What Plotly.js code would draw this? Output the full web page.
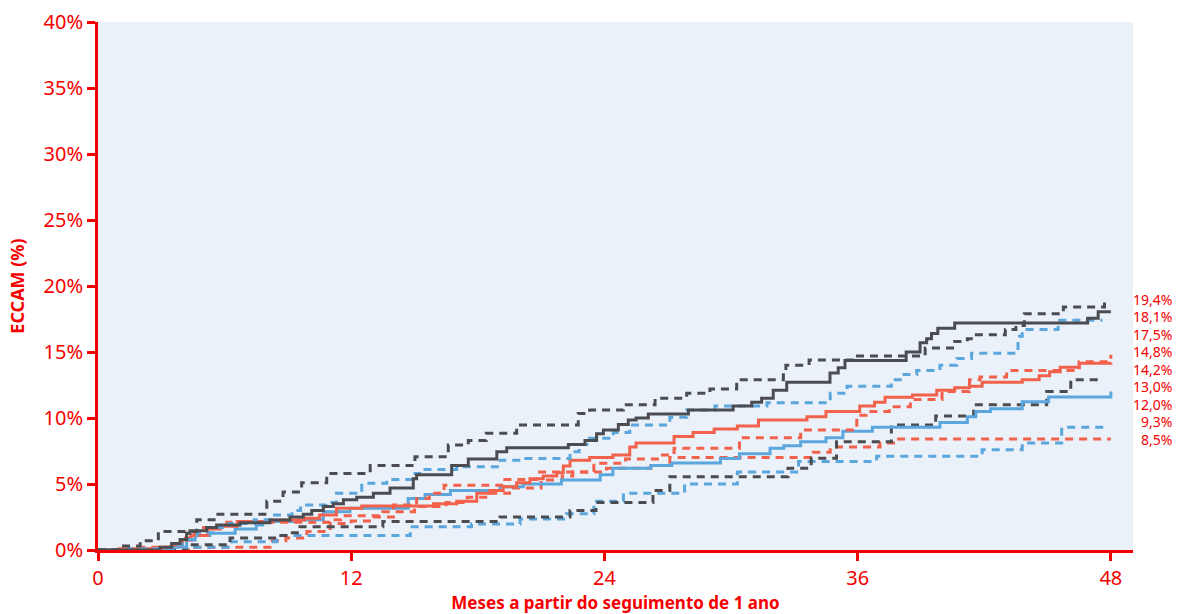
<!DOCTYPE html>
<html>
<head>
<meta charset="utf-8">
<script src="https://cdn.plot.ly/plotly-3.0.1.min.js"></script>
<style>
  html, body { margin: 0; padding: 0; background: #ffffff; }
  #chart { width: 1177px; height: 614px; }
</style>
</head>
<body>
<div id="chart"></div>
<script>
// ---- Data (months, cumulative MACCE %) ----
const grayDashUpX = [0, 1.04, 2.0, 2.86, 4.68, 5.6, 8.0, 8.77, 9.65, 10.84, 12.9, 15.02, 16.6, 17.55, 18.4, 19.84, 22.76, 23.3, 24.9, 26.4, 27.9, 29.0, 30.27, 32.48, 32.6, 33.7, 35.83, 39.2, 40.6, 41.2, 41.5, 43.0, 43.5, 43.9, 45.75, 47.7];
const grayDashUpY = [0, 0.3, 0.7, 1.4, 2.3, 2.7, 3.7, 4.4, 5.1, 5.8, 6.4, 7.07, 7.95, 8.3, 8.84, 9.47, 10.35, 10.6, 11.0, 11.5, 11.87, 12.2, 12.9, 13.4, 14.0, 14.4, 14.7, 15.3, 15.8, 16.0, 16.3, 16.7, 17.0, 17.9, 18.4, 18.9];

const graySolidX = [0, 2.94, 3.49, 3.89, 4.2, 4.36, 5.15, 5.62, 6.73, 8.15, 9.1, 9.73, 10.13, 10.68, 11.15, 11.63, 12.26, 13.05, 13.84, 14.94, 15.1, 16.76, 17.55, 18.9, 19.37, 22.29, 23.08, 23.63, 23.95, 24.66, 25.13, 25.5, 26.08, 27.98, 30.1, 30.98, 31.45, 32.0, 32.64, 34.69, 35.08, 35.4, 38.3, 38.96, 39.27, 39.5, 39.8, 40.6, 46.9, 47.4, 48.0];
const graySolidY = [0, 0.2, 0.5, 0.8, 1.26, 1.46, 1.7, 1.9, 2.07, 2.27, 2.5, 2.7, 3.0, 3.3, 3.5, 3.8, 4.0, 4.3, 4.7, 5.4, 5.7, 6.4, 6.9, 7.45, 7.75, 8.0, 8.3, 8.8, 9.1, 9.5, 9.85, 10.0, 10.3, 10.6, 10.9, 11.2, 11.5, 12.1, 12.7, 13.4, 13.8, 14.35, 15.0, 15.7, 16.0, 16.4, 16.8, 17.2, 17.55, 18.05, 18.05];

const blueDashUpX = [0, 1.5, 3.7, 4.0, 4.7, 5.5, 6.2, 7.4, 8.15, 9.2, 9.6, 10.8, 11.3, 12.5, 13.68, 14.87, 15.5, 17.0, 19.05, 20.16, 22.37, 22.8, 23.3, 24.42, 25.2, 27.1, 27.9, 29.24, 31.7, 34.7, 35.5, 37.6, 38.2, 38.8, 39.9, 40.7, 41.4, 43.6, 43.8, 45.5, 47.6];
const blueDashUpY = [0, 0.1, 0.4, 0.8, 1.3, 1.7, 2.0, 2.3, 2.65, 3.0, 3.4, 3.6, 4.3, 5.05, 5.35, 5.8, 6.1, 6.3, 6.8, 6.94, 7.45, 8.0, 8.46, 8.9, 9.47, 10.05, 10.6, 10.9, 11.16, 11.87, 12.4, 12.9, 13.3, 13.6, 14.0, 14.5, 14.9, 16.2, 16.7, 17.4, 17.4];

const redDashUpX = [0, 2.0, 3.5, 4.0, 4.4, 5.0, 6.1, 11.0, 11.5, 13.5, 14.0, 15.1, 15.7, 16.4, 19.2, 20.8, 23.5, 25.0, 26.6, 27.3, 30.4, 33.3, 35.96, 36.4, 37.5, 38.5, 40.0, 41.3, 41.8, 43.06, 46.5, 48.0];
const redDashUpY = [0, 0.2, 0.4, 0.9, 1.3, 1.7, 2.1, 2.3, 2.6, 2.9, 3.4, 3.9, 4.3, 4.9, 5.35, 5.9, 6.57, 6.9, 7.2, 7.7, 8.5, 9.1, 10.2, 10.5, 10.86, 11.4, 12.0, 12.9, 13.1, 13.6, 14.27, 14.8];

const redSolidX = [0, 1.0, 3.0, 3.5, 4.0, 4.4, 5.2, 5.8, 6.6, 8.2, 9.8, 10.5, 11.3, 12.5, 15.9, 17.0, 17.95, 18.58, 19.2, 19.84, 20.47, 21.1, 21.74, 22.05, 22.37, 23.3, 24.4, 25.2, 25.5, 27.3, 28.2, 29.2, 30.3, 31.3, 33.6, 34.5, 36.1, 36.8, 37.3, 38.6, 39.75, 40.6, 41.3, 41.9, 43.8, 44.6, 45.1, 45.6, 46.5, 48.0];
const redSolidY = [0, 0.1, 0.2, 0.4, 0.76, 1.1, 1.6, 1.8, 2.15, 2.27, 2.4, 2.65, 3.16, 3.33, 3.5, 3.7, 4.3, 4.5, 4.8, 5.1, 5.4, 5.6, 5.86, 6.36, 6.8, 7.0, 7.2, 7.8, 8.1, 8.6, 8.9, 9.17, 9.4, 9.85, 10.1, 10.5, 10.9, 11.2, 11.57, 11.74, 12.1, 12.3, 12.4, 12.7, 12.9, 13.2, 13.5, 13.84, 14.14, 14.2];

const grayDashLowX = [0, 4.2, 6.26, 8.55, 9.1, 9.57, 13.5, 19.05, 22.37, 23.6, 26.3, 27.1, 32.7, 33.8, 35.0, 37.6, 39.7, 41.5, 44.96, 46.1, 47.4];
const grayDashLowY = [0, 0.4, 0.9, 1.1, 1.3, 1.77, 2.15, 2.5, 3.0, 3.6, 4.5, 5.55, 6.2, 6.95, 8.2, 9.47, 10.15, 11.0, 12.0, 12.9, 12.9];

const blueSolidX = [0, 2.0, 3.5, 4.2, 4.6, 5.3, 6.5, 7.5, 7.8, 9.5, 10.68, 11.94, 14.7, 15.5, 16.7, 19.05, 20.16, 21.96, 23.8, 24.4, 26.2, 27.2, 29.5, 30.4, 31.85, 32.5, 33.3, 34.5, 35.3, 36.7, 39.9, 41.2, 41.6, 42.3, 43.8, 45.05, 48.0, 48.0];
const blueSolidY = [0, 0.05, 0.2, 0.76, 1.1, 1.26, 1.6, 1.9, 2.15, 2.3, 2.9, 3.16, 3.9, 4.2, 4.5, 4.8, 5.0, 5.3, 5.7, 6.2, 6.4, 6.6, 6.94, 7.3, 7.7, 7.9, 8.2, 8.5, 9.0, 9.3, 9.65, 10.1, 10.5, 10.7, 11.24, 11.6, 11.6, 12.0];

const blueDashLowX = [0, 4.2, 6.26, 8.47, 14.8, 17.7, 20.0, 22.2, 23.5, 24.9, 27.8, 30.3, 33.2, 36.9, 41.9, 43.8, 45.67, 47.7];
const blueDashLowY = [0, 0.2, 0.63, 1.1, 1.77, 1.97, 2.35, 2.75, 3.7, 4.3, 5.0, 5.9, 6.7, 7.1, 7.6, 8.1, 9.3, 9.3];

const redDashLowX = [0, 4.36, 8.15, 8.9, 9.9, 11.0, 12.0, 13.0, 14.0, 15.0, 16.5, 17.5, 18.5, 19.5, 21.0, 22.0, 22.5, 24.1, 26.2, 27.1, 33.9, 34.7, 37.06, 37.7, 48.0];
const redDashLowY = [0, 0.2, 0.7, 0.9, 1.4, 2.0, 2.2, 2.5, 2.9, 3.3, 3.6, 4.0, 4.3, 4.7, 5.3, 5.6, 5.9, 6.2, 6.4, 7.0, 7.4, 7.8, 8.1, 8.4, 8.4];

const endLabels = ["19,4%", "18,1%", "17,5%", "14,8%", "14,2%", "13,0%", "12,0%", "9,3%", "8,5%"];

const xTicks = [0, 12, 24, 36, 48];
const yTicks = [0, 5, 10, 15, 20, 25, 30, 35, 40];
const yTickText = ["0%", "5%", "10%", "15%", "20%", "25%", "30%", "35%", "40%"];

// ---- Styles ----
const GRAY = "#4b4c50";
const BLUE = "#5aa6dd";
const RED = "#f2614b";
const AX = "#f50000";
const DASH = "8px,6px";

function tr(x, y, color, dashed) {
  return {
    x: x, y: y, type: "scatter", mode: "lines",
    line: { color: color, width: 3, shape: "hv", dash: dashed ? DASH : "solid" },
    hoverinfo: "skip", showlegend: false
  };
}

const data = [
  tr(redDashLowX, redDashLowY, RED, true),
  tr(blueDashLowX, blueDashLowY, BLUE, true),
  tr(grayDashLowX, grayDashLowY, GRAY, true),
  tr(blueSolidX, blueSolidY, BLUE, false),
  tr(redDashUpX, redDashUpY, RED, true),
  tr(redSolidX, redSolidY, RED, false),
  tr(blueDashUpX, blueDashUpY, BLUE, true),
  tr(graySolidX, graySolidY, GRAY, false),
  tr(grayDashUpX, grayDashUpY, GRAY, true)
];

const annotations = endLabels.map((t, i) => ({
  text: t, xref: "paper", yref: "y", x: 1, y: 19.0 - i * 1.325,
  xanchor: "right", yanchor: "middle", xshift: 41, showarrow: false,
  font: { family: "Noto Sans, sans-serif", size: 14, color: AX }
}));

const layout = {
  width: 1177, height: 614,
  margin: { l: 98, r: 44, t: 22, b: 64, pad: 0 },
  paper_bgcolor: "#ffffff",
  plot_bgcolor: "#eaf1f9",
  font: { family: "Noto Sans, sans-serif", color: AX },
  xaxis: {
    range: [0, 49.05], tickvals: xTicks, ticktext: xTicks.map(String),
    showgrid: false, zeroline: false, showline: true, linecolor: AX, linewidth: 3,
    ticks: "outside", ticklen: 8, tickwidth: 3, tickcolor: AX,
    tickfont: { size: 20, color: AX },
    title: { text: "Meses a partir do seguimento de 1 ano", font: { size: 17, color: AX, weight: "bold" }, standoff: 16 }
  },
  yaxis: {
    range: [0, 40], tickvals: yTicks, ticktext: yTickText,
    showgrid: false, zeroline: false, showline: true, linecolor: AX, linewidth: 3,
    ticks: "outside", ticklen: 8, tickwidth: 3, tickcolor: AX,
    tickfont: { size: 20, color: AX },
    title: { text: "ECCAM (%)", font: { size: 18, color: AX, weight: "bold" }, standoff: 15 }
  },
  annotations: annotations
};

Plotly.newPlot("chart", data, layout, { displayModeBar: false, staticPlot: true });
</script>
</body>
</html>
